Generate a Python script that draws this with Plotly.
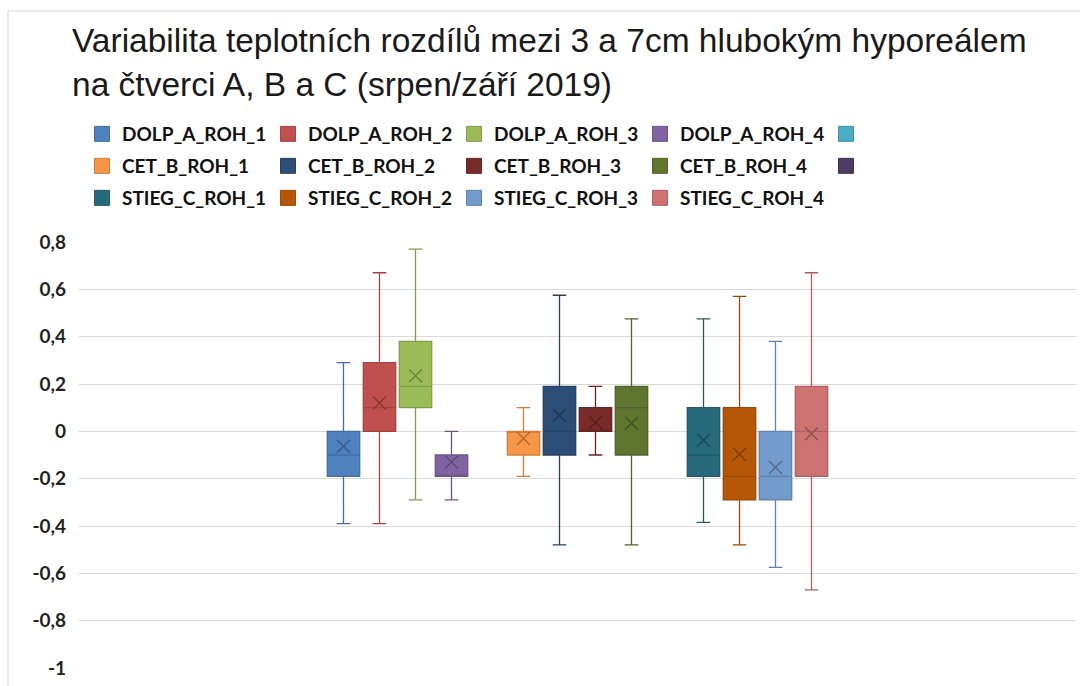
import plotly.graph_objects as go

# ---------------- data ----------------
SERIES = ["DOLP_A_ROH_1", "DOLP_A_ROH_2", "DOLP_A_ROH_3", "DOLP_A_ROH_4", " ",
          "CET_B_ROH_1", "CET_B_ROH_2", "CET_B_ROH_3", "CET_B_ROH_4", "  ",
          "STIEG_C_ROH_1", "STIEG_C_ROH_2", "STIEG_C_ROH_3", "STIEG_C_ROH_4"]
COLORS = ["#4F81BD", "#C0504D", "#9BBB59", "#8064A2", "#4BACC6",
          "#F79646", "#2C4D75", "#772C2A", "#5F7530", "#4D3B62",
          "#276A7C", "#B65708", "#729ACA", "#CD7371"]
LOWER = [-0.39, -0.39, -0.29, -0.29, None, -0.19, -0.48, -0.10, -0.48, None, -0.385, -0.48, -0.575, -0.67]
Q1 = [-0.19, 0.00, 0.10, -0.19, None, -0.10, -0.10, 0.00, -0.10, None, -0.19, -0.29, -0.29, -0.19]
MEDIAN = [-0.10, 0.10, 0.19, -0.19, None, 0.00, 0.00, 0.00, 0.10, None, -0.10, -0.19, -0.19, 0.00]
Q3 = [0.00, 0.29, 0.38, -0.10, None, 0.00, 0.19, 0.10, 0.19, None, 0.10, 0.10, 0.00, 0.19]
UPPER = [0.29, 0.67, 0.77, 0.00, None, 0.10, 0.575, 0.19, 0.475, None, 0.475, 0.57, 0.38, 0.67]
MEAN = [-0.063, 0.12, 0.235, -0.13, None, -0.03, 0.067, 0.037, 0.034, None, -0.038, -0.097, -0.153, -0.01]

TICK_VALS = [0.8, 0.6, 0.4, 0.2, 0, -0.2, -0.4, -0.6, -0.8, -1]
TICK_LABELS = ["0,8", "0,6", "0,4", "0,2", "0", "-0,2", "-0,4", "-0,6", "-0,8", "-1"]

TITLE = "Variabilita teplotních rozdílů mezi 3 a 7cm hlubokým hyporeálem<br>na čtverci A, B a C (srpen/září 2019)"


def darken(hex_color, f=0.8):
    h = hex_color.lstrip("#")
    r, g, b = (int(h[i:i + 2], 16) for i in (0, 2, 4))
    return "rgb({},{},{})".format(int(r * f), int(g * f), int(b * f))


W, H = 1080, 686
ML, MR, MT, MB = 79, 4, 242, 18
PW, PH = W - ML - MR, H - MT - MB

fig = go.Figure()

LEGENDS = ["legend", "legend2", "legend3"]

for i, name in enumerate(SERIES):
    col = COLORS[i]
    if Q1[i] is not None:
        fig.add_trace(go.Box(
            x=[i], q1=[Q1[i]], median=[MEDIAN[i]], q3=[Q3[i]],
            lowerfence=[LOWER[i]], upperfence=[UPPER[i]],
            fillcolor=col, line=dict(color=darken(col, 0.85), width=1.3),
            width=0.9, whiskerwidth=0.42, boxpoints=False,
            showlegend=False, hoverinfo="skip", name=name,
        ))
        fig.add_trace(go.Scatter(
            x=[i], y=[MEAN[i]], mode="markers",
            marker=dict(symbol="x-thin", size=13,
                        line=dict(color=darken(col, 0.7), width=1.3)),
            showlegend=False, hoverinfo="skip",
        ))
    # legend entry
    fig.add_trace(go.Scatter(
        x=[None], y=[None], mode="markers", name=name,
        marker=dict(symbol="square", size=15, color=col,
                    line=dict(color=darken(col, 0.85), width=1)),
        legend=LEGENDS[i // 5], showlegend=True,
    ))

row_px = [134, 166, 198]
legend_font = dict(family="Lato, Liberation Sans, sans-serif", size=19, color="#111111", weight="bold")
legend_common = dict(orientation="h", xanchor="left", yanchor="middle",
                     x=(82 - ML) / PW, bgcolor="rgba(0,0,0,0)",
                     entrywidth=141, entrywidthmode="pixels",
                     itemwidth=30, font=legend_font, tracegroupgap=0)
layout_legends = {}
for k, lid in enumerate(LEGENDS):
    d = dict(legend_common)
    d["y"] = (H - MB - row_px[k]) / PH
    layout_legends[lid] = d

fig.update_layout(
    width=W, height=H,
    margin=dict(l=ML, r=MR, t=MT, b=MB, autoexpand=False),
    paper_bgcolor="white", plot_bgcolor="white",
    title=dict(text=TITLE, x=72 / W, xanchor="left", xref="container",
               y=1 - 52 / H, yanchor="top", yref="container",
               font=dict(family="Liberation Sans, Arial, sans-serif", size=33.5, color="#1a1a1a")),
    boxmode="overlay",
    xaxis=dict(range=[6.5 - PW / 2 / 36, 6.5 + PW / 2 / 36], showticklabels=False,
               showgrid=False, zeroline=False, showline=False, ticks=""),
    yaxis=dict(range=[-1, 0.8], tickvals=TICK_VALS, ticktext=TICK_LABELS,
               showgrid=True, gridcolor="#d9d9d9", gridwidth=1, zeroline=False,
               showline=False, ticks="", ticklabelstandoff=12,
               tickfont=dict(family="Lato, Liberation Sans, sans-serif", size=19, color="#222222", weight="bold")),
    shapes=[dict(type="rect", xref="paper", yref="paper",
                 x0=(8 - ML) / PW, x1=1.3, y0=-0.5, y1=(H - MB - 11) / PH,
                 line=dict(color="#d9d9d9", width=1), layer="below")],
    **layout_legends,
)

fig.write_html("out.html", config={"displayModeBar": False},
               post_script="document.body.style.margin='0';")
